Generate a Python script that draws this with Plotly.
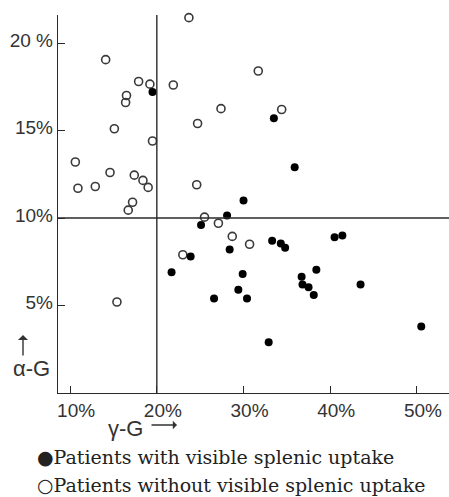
import plotly.graph_objects as go

# gamma-globulin (%) and alpha-globulin (%) per patient
with_uptake_gamma = [19.5, 33.5, 35.9, 30.0, 28.1, 25.1, 33.3, 34.3, 34.8, 28.4, 23.9, 21.7, 29.9,
                     29.4, 26.6, 30.4, 32.9, 40.5, 41.4, 38.4, 36.7, 36.8, 37.5, 38.1, 43.5, 50.5]
with_uptake_alpha = [17.2, 15.7, 12.9, 11.0, 10.15, 9.6, 8.7, 8.55, 8.3, 8.2, 7.8, 6.9, 6.8,
                     5.9, 5.4, 5.4, 2.9, 8.9, 9.0, 7.05, 6.65, 6.2, 6.05, 5.6, 6.2, 3.8]

without_uptake_gamma = [23.7, 14.1, 17.9, 19.2, 21.9, 16.5, 16.4, 15.1, 24.7, 31.7, 27.4, 34.4, 19.5,
                        10.6, 14.6, 17.4, 18.4, 19.0, 10.9, 12.9, 17.2, 16.7, 24.6, 25.5, 27.1,
                        28.7, 30.7, 23.0, 15.4]
without_uptake_alpha = [21.45, 19.05, 17.8, 17.65, 17.6, 17.0, 16.6, 15.1, 15.4, 18.4, 16.25, 16.2, 14.4,
                        13.2, 12.6, 12.45, 12.15, 11.75, 11.7, 11.8, 10.9, 10.45, 11.9, 10.05, 9.7,
                        8.95, 8.5, 7.9, 5.2]

x_ticks = [10, 20, 30, 40, 50]
x_tick_text = ["10%", "20%", "30%", "40%", "50%"]
y_ticks = [5, 10, 15, 20]
y_tick_text = ["5%", "10%", "15%", "20 %"]

x_range = [8.6, 53.7]
y_range = [0, 21.6]
x_cut = 20
y_cut = 10

legend_filled = "●Patients with visible splenic uptake"
legend_open = "○Patients without visible splenic uptake"

ink = "#2a2a2a"

fig = go.Figure()
fig.add_trace(go.Scatter(
    x=without_uptake_gamma, y=without_uptake_alpha, mode="markers",
    name="Patients without visible splenic uptake",
    marker=dict(symbol="circle-open", size=8, color="#3a3a3a", line=dict(width=1.6)),
    cliponaxis=False, showlegend=False))
fig.add_trace(go.Scatter(
    x=with_uptake_gamma, y=with_uptake_alpha, mode="markers",
    name="Patients with visible splenic uptake",
    marker=dict(symbol="circle", size=8, color="#000000"),
    cliponaxis=False, showlegend=False))

# dividing lines
fig.add_shape(type="line", xref="x", yref="y", x0=x_range[0], x1=x_range[1], y0=y_cut, y1=y_cut,
              line=dict(color=ink, width=1.4))
fig.add_shape(type="line", xref="x", yref="y", x0=x_cut, x1=x_cut, y0=0, y1=21.75,
              line=dict(color=ink, width=1.4))

tick_font = dict(family="Liberation Sans", size=19, color="#333333")

fig.update_xaxes(range=x_range, tickvals=x_ticks, ticktext=x_tick_text, ticks="inside", ticklen=7,
                 tickwidth=1.3, tickcolor=ink, showline=True, linecolor=ink, linewidth=1.4,
                 showgrid=False, zeroline=False, tickfont=tick_font, ticklabelshift=6)
fig.update_yaxes(range=y_range, tickvals=y_ticks, ticktext=y_tick_text, ticks="inside", ticklen=7,
                 tickwidth=1.3, tickcolor=ink, showline=True, linecolor=ink, linewidth=1.4,
                 showgrid=False, zeroline=False, tickfont=tick_font, ticklabelshift=-3)

title_font = dict(family="Liberation Sans", size=22, color="#333333")

# axis titles
fig.add_annotation(xref="paper", yref="paper", x=(31 - 58) / 391, y=(497 - 368 - 104) / 378,
                   text="α-G", showarrow=False, font=title_font,
                   xanchor="center", yanchor="middle")
fig.add_annotation(xref="paper", yref="paper", x=(23 - 58) / 391, y=(497 - 335 - 104) / 378,
                   ax=0, ay=22, text="", showarrow=True, arrowhead=1, arrowsize=1.2, arrowwidth=1.4,
                   arrowcolor="#333333")
fig.add_annotation(xref="paper", yref="paper", x=(125 - 58) / 391, y=(497 - 428 - 104) / 378,
                   text="γ-G", showarrow=False, font=title_font,
                   xanchor="center", yanchor="middle")
fig.add_annotation(xref="paper", yref="paper", x=(177 - 58) / 391, y=(497 - 425 - 104) / 378,
                   ax=-27, ay=0, text="", showarrow=True, arrowhead=1, arrowsize=1.0, arrowwidth=1.4,
                   arrowcolor="#333333")

# legend as typeset text
legend_font = dict(family="DejaVu Serif", size=19, color="#222222")
fig.add_annotation(xref="paper", yref="paper", x=(36 - 58) / 391, y=(497 - 457 - 104) / 378,
                   text=legend_filled, showarrow=False, font=legend_font,
                   xanchor="left", yanchor="middle", borderpad=0)
fig.add_annotation(xref="paper", yref="paper", x=(36 - 58) / 391, y=(497 - 485 - 104) / 378,
                   text=legend_open, showarrow=False, font=legend_font,
                   xanchor="left", yanchor="middle", borderpad=0)

fig.update_layout(width=449, height=497, margin=dict(l=58, r=0, t=15, b=104),
                  paper_bgcolor="white", plot_bgcolor="white")

fig.write_html("out.html", config={"displayModeBar": False},
               post_script="document.body.style.margin='0';document.body.style.overflow='hidden';")
